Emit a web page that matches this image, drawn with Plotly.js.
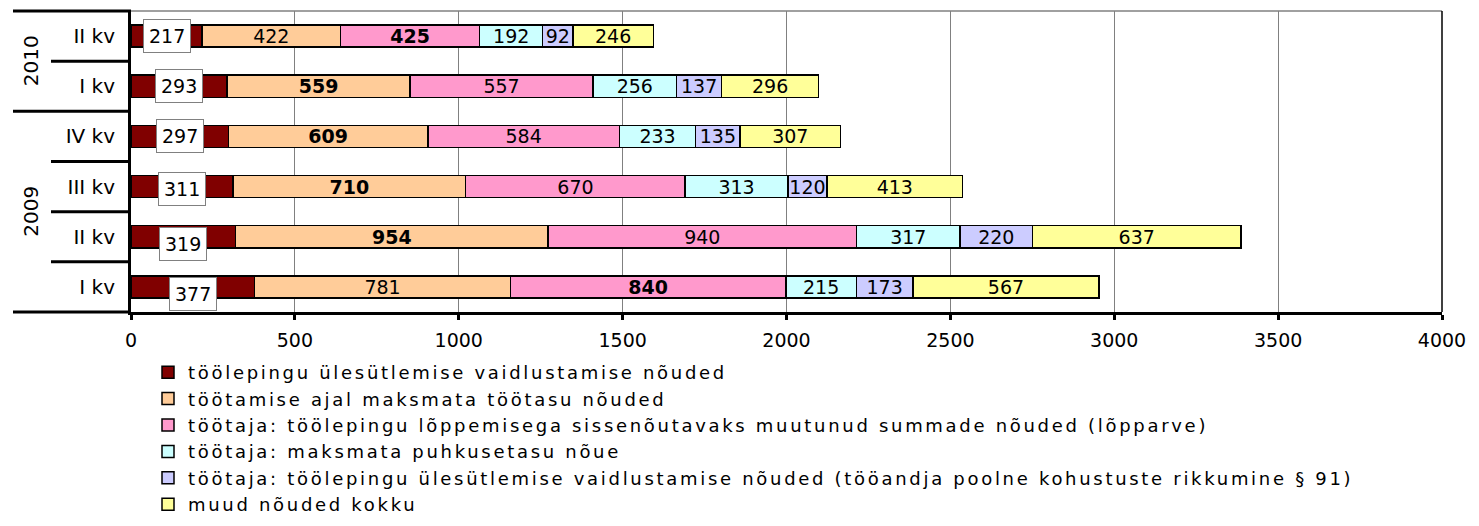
<!DOCTYPE html>
<html>
<head>
<meta charset="utf-8">
<script src="https://cdn.plot.ly/plotly-3.0.1.min.js"></script>
<style>
body{margin:0;background:#fff}
.legendtext{letter-spacing:2.7px}
</style>
</head>
<body>
<div id="chart" style="width:1479px;height:526px"></div>
<script>
// categories, bottom to top
var quarters = ['I kv', 'II kv', 'III kv', 'IV kv', 'I kv', 'II kv'];
var years    = ['2009', '2009', '2009', '2009', '2010', '2010'];

var seriesNames = [
  'töölepingu ülesütlemise vaidlustamise nõuded',
  'töötamise ajal maksmata töötasu nõuded',
  'töötaja: töölepingu lõppemisega sissenõutavaks muutunud summade nõuded (lõpparve)',
  'töötaja: maksmata puhkusetasu nõue',
  'töötaja: töölepingu ülesütlemise vaidlustamise nõuded (tööandja poolne kohustuste rikkumine § 91)',
  'muud nõuded kokku'
];

var vaidlustamine = [377, 319, 311, 297, 293, 217];
var tootasu       = [781, 954, 710, 609, 559, 422];
var lopparve      = [840, 940, 670, 584, 557, 425];
var puhkusetasu   = [215, 317, 313, 233, 256, 192];
var tooandja91    = [173, 220, 120, 135, 137, 92];
var muud          = [567, 637, 413, 307, 296, 246];

var series = [vaidlustamine, tootasu, lopparve, puhkusetasu, tooandja91, muud];
var colors = ['#800000', '#FFCC99', '#FF99CC', '#CCFFFF', '#CCCCFF', '#FFFF99'];

var FONT = 'DejaVu Sans, Verdana, sans-serif';
var n = quarters.length;
var yIdx = quarters.map(function (q, i) { return i; });

// row maxima (drawn bold)
var rowMax = yIdx.map(function (i) {
  return Math.max.apply(null, series.map(function (s) { return s[i]; }));
});

var traces = series.map(function (vals, k) {
  var txt = vals.map(function (v, i) {
    if (k === 0) return '';
    return v === rowMax[i] ? '<b>' + v + '</b>' : String(v);
  });
  return {
    type: 'bar',
    orientation: 'h',
    name: seriesNames[k],
    x: vals,
    y: yIdx,
    width: 0.44,
    marker: { color: colors[k], line: { color: '#000', width: 1.5 } },
    text: txt,
    textposition: k === 0 ? 'none' : 'inside',
    insidetextanchor: 'middle',
    textangle: 0,
    constraintext: 'none',
    textfont: { family: FONT, size: 19, color: '#000' },
    hoverinfo: 'x+name'
  };
});

// geometry helpers (paper coords)
var L = 131, R = 1442, T = 11, B = 312;
var PW = R - L;
function px(p) { return (p - L) / PW; }

var shapes = [];
var annotations = [];

// boxed labels for the first series
var boxNudge = [7, 7, 2, 0, 0, 0];
yIdx.forEach(function (i) {
  annotations.push({
    x: vaidlustamine[i] / 2, y: i, xref: 'x', yref: 'y',
    text: String(vaidlustamine[i]), showarrow: false,
    xanchor: 'center', yanchor: 'middle',
    font: { family: FONT, size: 19, color: '#000' },
    bgcolor: '#fff', bordercolor: '#808080', borderwidth: 1, borderpad: 5,
    yshift: -boxNudge[i]
  });
});

// category separators
for (var b = 0; b <= n; b++) {
  var yp = b / n;
  var isGroup = (b === 0 || b === n || years[b] !== years[b - 1]);
  shapes.push({
    type: 'line', xref: 'paper', yref: 'paper',
    x0: px(isGroup ? 13 : 51), x1: 0, y0: yp, y1: yp,
    line: { color: '#000', width: 3 }
  });
}

// year labels
var groups = [];
years.forEach(function (y, i) {
  if (!groups.length || groups[groups.length - 1].name !== y) groups.push({ name: y, s: i, e: i });
  else groups[groups.length - 1].e = i;
});
groups.forEach(function (g) {
  annotations.push({
    x: px(31), y: (g.s + g.e + 1) / 2 / n, xref: 'paper', yref: 'paper',
    xanchor: 'center', yanchor: 'middle',
    text: g.name, textangle: -90, showarrow: false,
    font: { family: FONT, size: 20, color: '#000' }
  });
});

// frame: top gray, right black
shapes.push({ type: 'line', xref: 'paper', yref: 'paper', x0: 0, x1: 1, y0: 1, y1: 1, line: { color: '#808080', width: 1.5 } });
shapes.push({ type: 'line', xref: 'paper', yref: 'paper', x0: 1, x1: 1, y0: 0, y1: 1, line: { color: '#000', width: 1.5 } });

var layout = {
  width: 1479, height: 526,
  margin: { l: L, r: 1479 - R, t: T, b: 526 - B, pad: 0, autoexpand: false },
  paper_bgcolor: '#fff', plot_bgcolor: '#fff',
  barmode: 'stack',
  font: { family: FONT, size: 18, color: '#000' },
  showlegend: true,
  legend: {
    xref: 'container', yref: 'container',
    x: 148 / 1479, y: 1 - 354 / 526, xanchor: 'left', yanchor: 'top',
    traceorder: 'normal',
    font: { family: FONT, size: 18, color: '#000' },
    bgcolor: 'rgba(0,0,0,0)', borderwidth: 0
  },
  xaxis: {
    range: [0, 4000], dtick: 500, tick0: 0,
    showgrid: true, gridcolor: '#808080', gridwidth: 1,
    zeroline: false,
    showline: true, linecolor: '#000', linewidth: 3,
    ticks: 'outside', ticklen: 5, tickwidth: 3, tickcolor: '#000',
    tickangle: 0, ticklabelstandoff: 4,
    tickfont: { family: FONT, size: 19, color: '#000' },
    fixedrange: true
  },
  yaxis: {
    range: [-0.5, n - 0.5],
    tickmode: 'array', tickvals: yIdx, ticktext: quarters,
    showgrid: false, zeroline: false,
    showline: true, linecolor: '#000', linewidth: 3,
    ticks: '', ticklabelstandoff: 9,
    tickfont: { family: FONT, size: 20, color: '#000' },
    fixedrange: true
  },
  shapes: shapes,
  annotations: annotations
};

Plotly.newPlot('chart', traces, layout, { displayModeBar: false, staticPlot: true });
</script>
</body>
</html>
